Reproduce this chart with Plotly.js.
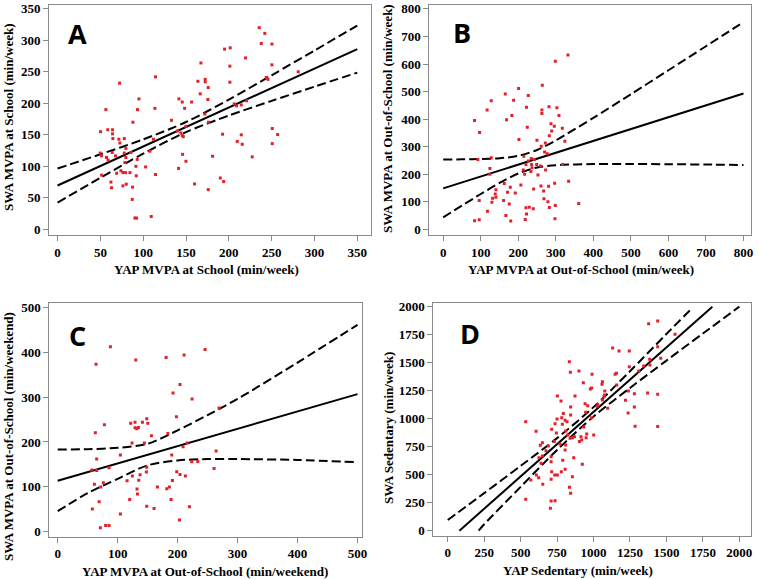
<!DOCTYPE html>
<html>
<head>
<meta charset="utf-8">
<script src="https://cdn.plot.ly/plotly-3.0.1.min.js"></script>
<style>html,body{margin:0;padding:0;background:#fff;}#chart{width:759px;height:579px;}</style>
</head>
<body>
<div id="chart"></div>
<script>
// ---------- Panel A: MVPA at school ----------
const aX = [50.2,58.6,64.2,64.2,64.6,71.6,77.9,49.8,51.4,57.2,63.8,67.7,72.8,79.8,77.9,85.6,88,93.4,95,113.7,114.4,112,107.8,93,91.5,102.8,79.8,78.6,74,76.3,79.4,84.5,91.9,114.4,80.2,76.3,87.6,62.3,63,51.4,87.2,90.3,92.3,109.4,59,69,72.4,56.4,
  133,141.7,145.6,148.4,156.5,140,144,145.6,146.8,149.9,146,149.9,141.3,160,176,181,190,194,192.7,167.4,163.9,172.4,172.4,175.9,166.6,175.5,172,176.3,195,201.6,201.2,201.2,219.5,206.3,209,214.5,220.7,209.8,215.6,214.5,227.3,235.5,242,237.9,250.3,250.3,243.7,245.7,250.7,257,250.7,281];
const aY = [155,158,158,151.5,144,143,144,121,116.5,114,122,116.5,137,128.5,121,122,170,190,207,192,242,143,124,111,100,99,114,106,93,90,90,90,85,87,71.6,69,67,75,66,86,47.5,18,17.8,20.4,110,89,232,190,
  173,207,202,192,202,156,153,149,147,163.5,119,108,96.7,72,63,116,81.5,75.8,151,264,235,238,234,225,215,206,183,170,286,288,259,233.5,272,199,196,197.5,204,139.5,135,150,115,320,311,295,294,261,241,238,160,150.5,136,250];
const aFitX = [0, 350];
const aFitY = [69.5, 286];
const aBandX = [0,50,100,150,200,250,300,350];
const aUpper = [96.5,119.1,142.7,170.3,205.8,244.5,283.8,323.3];
const aLower = [42.5,81.7,120.1,154.3,180.6,203.9,226.4,248.7];

// ---------- Panel B: MVPA out-of-school (week) ----------
const bX = [332.4,298.7,264,200.9,165.3,128,187.6,226.7,117,222,263,263,281.8,303,308.4,83.6,183,168.9,96.9,287.1,296,317.3,224,289,282.7,201.8,249.8,272,261.3,270.2,128,92.4,215,234.7,242.7,277.3,318,226.7,220.4,235.6,249,259.6,213.3,236.4,233.8,124.4,124.4,272.9,252.4,216.9,162.7,178.7,140.4,138.7,171.6,192,207,240.9,260.4,280.9,296.9,334.2,267.6,131.6,129.8,140.4,96,160.9,176,268.4,279,282.7,298.7,361,229.3,220.4,240,118,167,222,218.7,297.8,180,83.6,96,324];
const bY = [633,610,523,511,491,467,469,486,433,443,433,421,445,441,413,395,413,398,352,383,374,367,371,357,340,326,324,314,302,281,260,254,266,257,254,275,236,248,236,236,236,230,216,224,210,221,200,216,198,200,167,153,144,129,135,132,161,147,158,157,168,175,140,113,99,117,105,105,92,111,101,80,87,94,81,79,75,66,51,56,36,39,31,32,35,320];
const bFitX = [0, 800];
const bFitY = [149, 493];
const bBandX = [0,50,100,150,200,250,300,400,500,600,700,800];
const bUpper = [254,254.3,255.4,258.4,266.9,288.4,322.9,404.8,490.5,577.3,664.5,752];
const bLower = [44,86.7,128.6,168.6,203.1,224.6,233.1,237.2,237.5,236.7,235.5,234];

// ---------- Panel C: MVPA out-of-school (weekend) ----------
const cX = [87.9,64,130.2,180.8,210.8,245.8,204,192.4,224.1,198,77.9,62.8,121.8,129,141.3,148.5,150.2,129,131.8,134.6,183.7,156.3,144.6,124,269.2,104.6,209.1,215.8,190.2,65,264.2,223.6,233.6,260.8,56.9,65,85.6,61.2,76,71.8,124.6,148.5,147.9,137.4,115.7,135.2,132.3,133,120.1,148.5,160.7,166.3,181.9,186.3,198.5,204,213,191.3,189.1,219.7,203,69.1,57.8,104.6,71.2,80,85.6];
const cY = [412,373,382.6,388,394,406,328,309,296,256,238.5,220.7,241.5,244,244,252,242,232,229.6,232.5,219,214,198,197.6,276,171,189.4,198,171,162,180,156,156.8,141,137.4,136.7,142.6,106,109,100,124,144,133,127,113.7,115,95,84,72,57,52,100,96,100,133.7,127.8,124,114,72,55.7,26,67,50.5,39.4,8.9,14,14];
const cFitX = [0, 500];
const cFitY = [113.7, 306.7];
const cBandX = [0,50,100,150,200,250,300,400,500];
const cUpper = [183,184,187,196,226,260,296,377,461];
const cLower = [46,86,118,148,159,162,162,160,155];

// ---------- Panel D: sedentary ----------
const dX = [1378,1440,1559,1131,1175,1245,834,900,841,990,1148,1157,1245,1310,1344,1385,1387,1461,1440,930,978,987,1061,1058,1159,1077,1075,1239,1219,1280,1371,1440,1237,1280,1285,1440,752,777,873,843,942,960,946,987,933,1001,535,606,649,635,713,736,750,782,793,805,818,786,843,745,809,823,839,855,869,914,919,949,903,953,770,809,805,731,690,674,649,626,709,640,864,789,923,805,709,713,734,752,779,709,608,624,570,652,835,843,855,535,709,736,704,1097,1025,1030,1061,1072];
const dY = [1848,1872,1753,1631,1604,1604,1509,1426,1414,1396,1396,1405,1464,1426,1470,1530,1479,1539,1643,1321,1265,1274,1330,1307,1301,1247,1211,1247,1164,1223,1229,1217,1051,1104,932,929,1202,1158,1202,1104,1134,1116,1057,1009,926,854,973,887,786,762,905,955,997,1009,1045,985,973,949,1033,872,890,854,824,830,839,839,810,830,795,863,774,765,720,795,756,714,667,652,661,601,652,628,592,548,616,527,497,497,527,458,497,473,452,414,387,333,482,280,265,268,199,1092,1110,1125,1167,1196];
const dFitX = [80, 1815];
const dFitY = [0, 2000];
const dUpperX = [0,250,500,750,1000,1250,1500,1675];
const dUpper = [95,335,578,826,1103,1424,1756,1985];
const dLowerX = [212,250,500,750,1000,1250,1500,1750,2000];
const dLower = [0,57,391,720,1019,1274.5,1518.5,1760,2000];

// ---------- labels ----------
const panelLetters = ['A','B','C','D'];
const xTitles = ['YAP MVPA at School (min/week)','YAP MVPA at Out-of-School (min/week)','YAP MVPA at Out-of-School (min/weekend)','YAP Sedentary (min/week)'];
const yTitles = ['SWA MVPA at School (min/week)','SWA MVPA at Out-of-School (min/week)','SWA MVPA at Out-of-School (min/weekend)','SWA Sedentary (min/week)'];

const W = 759, H = 579;
const px = v => v / W;
const py = v => 1 - v / H;

const panels = [
  {xs:aX, ys:aY, fx:aFitX, fy:aFitY, ux:aBandX, uy:aUpper, lx:aBandX, ly:aLower,
   dom:[49,371,5,235], xr:[-10,366], yr:[-9,356], xt:[0,50,100,150,200,250,300,350], yt:[0,50,100,150,200,250,300,350]},
  {xs:bX, ys:bY, fx:bFitX, fy:bFitY, ux:bBandX, uy:bUpper, lx:bBandX, ly:bLower,
   dom:[429.3,751,5,235], xr:[-37,820], yr:[-20,814], xt:[0,100,200,300,400,500,600,700,800], yt:[0,100,200,300,400,500,600,700,800]},
  {xs:cX, ys:cY, fx:cFitX, fy:cFitY, ux:cBandX, uy:cUpper, lx:cBandX, ly:cLower,
   dom:[49.3,362.3,303.3,536.7], xr:[-14,508], yr:[-11,509], xt:[0,100,200,300,400,500], yt:[0,100,200,300,400,500]},
  {xs:dX, ys:dY, fx:dFitX, fy:dFitY, ux:dUpperX, uy:dUpper, lx:dLowerX, ly:dLower,
   dom:[433.3,751,303.3,535.7], xr:[-99,2080], yr:[-45,2030], xt:[0,250,500,750,1000,1250,1500,1750,2000], yt:[0,250,500,750,1000,1250,1500,1750,2000]}
];

const tickFont = {family:'Liberation Serif, Times New Roman, serif', size:13, color:'#000', weight:'bold'};
const titleFont = {family:'Liberation Serif, Times New Roman, serif', size:13, color:'#000', weight:'bold'};

const traces = [];
const layout = {
  width: W, height: H, showlegend: false,
  margin: {l:0, r:0, t:0, b:0},
  paper_bgcolor: '#fff', plot_bgcolor: '#fff',
  annotations: []
};

panels.forEach((p, i) => {
  const n = i === 0 ? '' : String(i + 1);
  const xa = 'x' + n, ya = 'y' + n;
  const dash = {color:'#000', width:2, dash:'9px,4px'};
  traces.push({x:p.ux, y:p.uy, xaxis:xa, yaxis:ya, mode:'lines', line:Object.assign({shape:'spline', smoothing:0.8}, dash), hoverinfo:'skip'});
  traces.push({x:p.lx, y:p.ly, xaxis:xa, yaxis:ya, mode:'lines', line:Object.assign({shape:'spline', smoothing:0.8}, dash), hoverinfo:'skip'});
  traces.push({x:p.fx, y:p.fy, xaxis:xa, yaxis:ya, mode:'lines', line:{color:'#000', width:2}, hoverinfo:'skip'});
  traces.push({x:p.xs, y:p.ys, xaxis:xa, yaxis:ya, mode:'markers', marker:{symbol:'square', size:3, color:'#e3202a'}});

  const axCommon = {showgrid:false, zeroline:false, showline:true, mirror:true, linecolor:'#8a8a8a', linewidth:1,
    ticks:'outside', ticklen:5, tickcolor:'#8a8a8a', tickfont:tickFont, fixedrange:true, ticklabeloverflow:'allow'};
  layout['xaxis' + n] = Object.assign({}, axCommon, {domain:[px(p.dom[0]), px(p.dom[1])], range:p.xr, tickvals:p.xt, anchor:ya});
  layout['yaxis' + n] = Object.assign({}, axCommon, {domain:[py(p.dom[3]), py(p.dom[2])], range:p.yr, tickvals:p.yt, anchor:xa});
});

const letterPos = [[77,34],[462,33],[77,335],[470,333]];
const xTitlePos = [[207,269],[581,269],[205,571],[578,570]];
const yTitlePos = [[8,117],[387,119],[8,437],[388,428]];
for (let i = 0; i < 4; i++) {
  layout.annotations.push({text:panelLetters[i], xref:'paper', yref:'paper', x:px(letterPos[i][0]), y:py(letterPos[i][1]),
    xanchor:'center', yanchor:'middle', showarrow:false, font:{family:'Open Sans, Liberation Sans, sans-serif', size:27, color:'#000', weight:'bold'}});
  layout.annotations.push({text:xTitles[i], xref:'paper', yref:'paper', x:px(xTitlePos[i][0]), y:py(xTitlePos[i][1]),
    xanchor:'center', yanchor:'middle', showarrow:false, font:titleFont});
  layout.annotations.push({text:yTitles[i], xref:'paper', yref:'paper', x:px(yTitlePos[i][0]), y:py(yTitlePos[i][1]),
    xanchor:'center', yanchor:'middle', textangle:-90, showarrow:false, font:titleFont});
}

Plotly.newPlot('chart', traces, layout, {displayModeBar:false, staticPlot:true});
</script>
</body>
</html>
